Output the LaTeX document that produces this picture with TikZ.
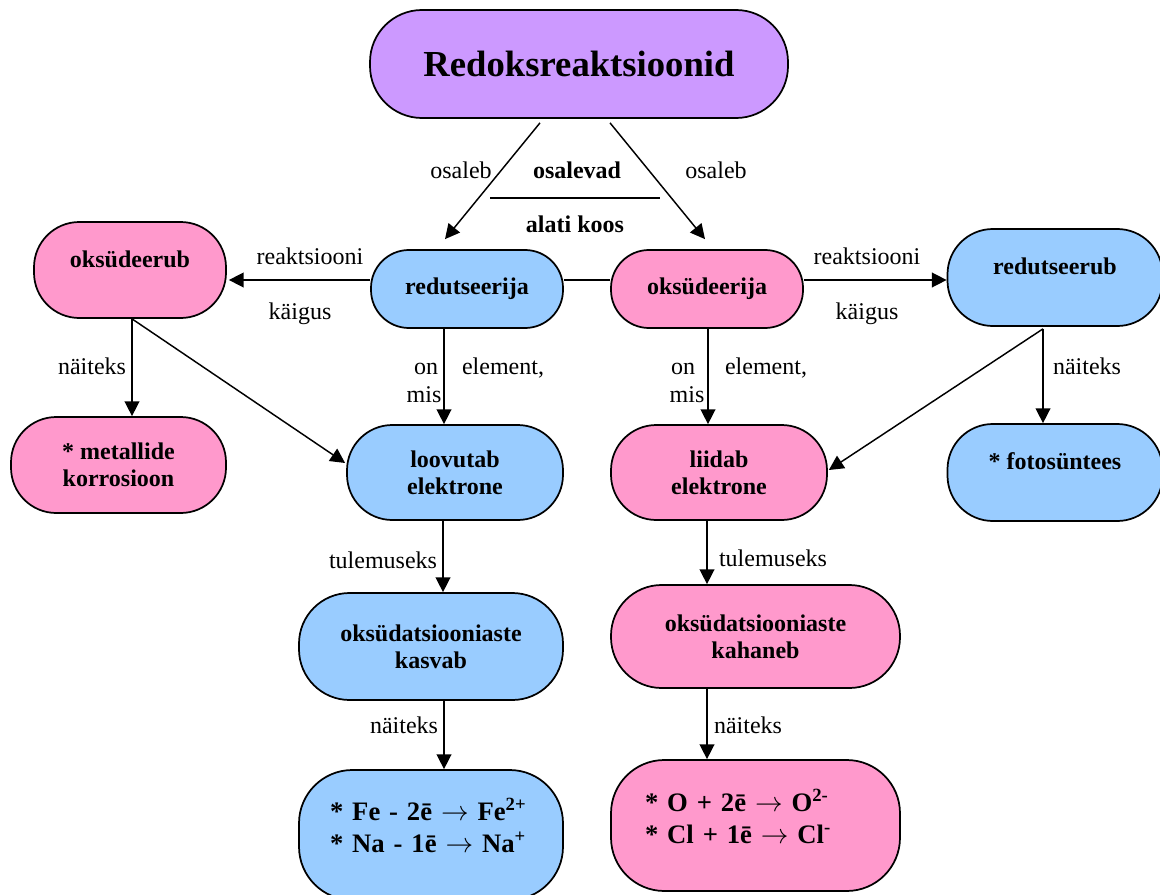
\documentclass[tikz,border=0pt]{standalone}
\usepackage{fontspec}
\setmainfont{Liberation Serif}
\usetikzlibrary{arrows.meta}
\definecolor{conceptPurple}{HTML}{CC99FF}
\definecolor{conceptPink}{HTML}{FF99CC}
\definecolor{conceptBlue}{HTML}{99CCFF}

\begin{document}
\begin{tikzpicture}[x=0.75pt,y=-0.75pt,%%
  boxStyle/.style={draw,line width=1.3pt,rounded corners=34pt,align=center,inner sep=0pt,font=\fontsize{18}{20}\selectfont\bfseries},%%
  blueBox/.style={boxStyle,fill=conceptBlue},%%
  pinkBox/.style={boxStyle,fill=conceptPink},%%
  topBox/.style={boxStyle,fill=conceptPurple,rounded corners=39pt,minimum width=313.5pt,minimum height=81pt,font=\fontsize{27.5}{30}\selectfont\bfseries},%%
  smallPill/.style={minimum width=144pt,minimum height=58.5pt,rounded corners=28.5pt},%%
  bigPill/.style={rounded corners=38pt},%%
  eqText/.style={align=left,font=\fontsize{20}{23.5}\selectfont\bfseries},%%
  arrowStyle/.style={-{Triangle[length=11pt,width=11pt]},line width=1.1pt},%%
  lineStyle/.style={-,line width=1.1pt},%%
  labelStyle/.style={inner sep=0pt,text height=12.6pt,text depth=3.6pt,font=\fontsize{18}{20}\selectfont},%%
  boldLabel/.style={labelStyle,font=\fontsize{18}{20}\selectfont\bfseries}
]
\useasboundingbox (0,0) rectangle (1160,895);
%%
%% Main concept and the two agents.
\node[topBox] (redoks) at (579,64) {Redoksreaktsioonid};
\node[blueBox,smallPill] (redutseerija) at (467,289) {redutseerija};
\node[pinkBox,smallPill] (oksudeerija) at (707,289) {oksüdeerija};
%% What happens to the agents.
\node[pinkBox,minimum width=144pt,minimum height=72pt,text height=12.6pt,text depth=16.8pt] (oksudeerub) at (130,270) {oksüdeerub};
\node[blueBox,minimum width=161.25pt,minimum height=72.75pt,text height=12.6pt,text depth=17.5pt] (redutseerub) at (1055,277.5) {redutseerub};
\node[pinkBox,minimum width=161.25pt,minimum height=72pt] (korrosioon) at (118.5,465) {* metallide\\korrosioon};
\node[blueBox,minimum width=162pt,minimum height=71.25pt] (loovutab) at (455,472.5) {loovutab\\elektrone};
\node[pinkBox,minimum width=162pt,minimum height=71.25pt] (liidab) at (719,472.5) {liidab\\elektrone};
\node[blueBox,minimum width=161.25pt,minimum height=72.75pt,text height=12.6pt,text depth=17.5pt] (fotosuntees) at (1055,472.5) {* fotosüntees};
%% Oxidation state and examples.
\node[blueBox,bigPill,minimum width=198pt,minimum height=80.25pt] (kasvab) at (431,646.5) {oksüdatsiooniaste\\kasvab};
\node[pinkBox,bigPill,minimum width=216.75pt,minimum height=77.25pt] (kahaneb) at (755.5,636.5) {oksüdatsiooniaste\\kahaneb};
\node[blueBox,bigPill,eqText,minimum width=198pt,minimum height=97.5pt,text width=151.5pt,inner xsep=23.25pt,text height=14pt,text depth=35.3pt,rounded corners=40pt] (naideFe) at (431,835) {* Fe - 2ē $\rightarrow$ Fe\textsuperscript{2+}\\{}* Na - 1ē $\rightarrow$ Na\textsuperscript{+}};
\node[pinkBox,bigPill,eqText,minimum width=216.75pt,minimum height=98.25pt,text width=165.75pt,inner xsep=25.5pt,text height=14pt,text depth=34.6pt,rounded corners=40pt] (naideO) at (755.5,825.5) {* O + 2ē $\rightarrow$ O\textsuperscript{2-}\\{}* Cl + 1ē $\rightarrow$ Cl\textsuperscript{-}};
%%
%% Both agents take part.
\draw[arrowStyle] ([shift={(-39,4)}]redoks.south) -- ([shift={(-22,-10)}]redutseerija.north);
\draw[arrowStyle] ([shift={(31,4)}]redoks.south) -- ([shift={(-2,-10)}]oksudeerija.north);
\node[labelStyle] (lblOsalebL) at (461,173) {osaleb};
\node[labelStyle] (lblOsalebR) at (716,173) {osaleb};
\node[boldLabel] (lblOsalevad) at (577,173) {osalevad};
\node[boldLabel] (lblKoos) at (575,227) {alati koos};
\draw[lineStyle] (490,198) -- (660,198);
%% Always together, and what they undergo.
\draw[lineStyle] ([shift={(0,-9)}]redutseerija.east) -- ([shift={(0,-9)}]oksudeerija.west);
\draw[arrowStyle] ([shift={(0,-9)}]redutseerija.west) -- ([shift={(2,10)}]oksudeerub.east);
\node[labelStyle] (lblReakL) at (310,258) {reaktsiooni};
\node[labelStyle] (lblKaigusL) at (300,313) {käigus};
\draw[arrowStyle] ([shift={(0,-9)}]oksudeerija.east) -- ([shift={(0,2.5)}]redutseerub.west);
\node[labelStyle] (lblReakR) at (867,258) {reaktsiooni};
\node[labelStyle] (lblKaigusR) at (867,313) {käigus};
%% Left branch.
\draw[arrowStyle] ([shift={(2,0)}]oksudeerub.south) -- ([shift={(13.5,0)}]korrosioon.north);
\draw[arrowStyle] ([shift={(2,0)}]oksudeerub.south) -- ([shift={(-1,-9.5)}]loovutab.west);
\node[labelStyle] (lblNaitKor) at (92,368) {näiteks};
\draw[arrowStyle] ([shift={(-23,0)}]redutseerija.south) -- ([shift={(-11,0)}]loovutab.north);
\node[labelStyle] (lblOnL) at (426,368) {on};
\node[labelStyle] (lblMisL) at (424,396) {mis};
\node[labelStyle] (lblElemL) at (503,368) {element,};
%% Right branch.
\draw[arrowStyle] ([shift={(1,0)}]oksudeerija.south) -- ([shift={(-11,0)}]liidab.north);
\node[labelStyle] (lblOnR) at (683,368) {on};
\node[labelStyle] (lblMisR) at (687,396) {mis};
\node[labelStyle] (lblElemR) at (766,368) {element,};
\draw[arrowStyle] ([shift={(-12,2)}]redutseerub.south) -- ([shift={(1,-2.5)}]liidab.east);
\draw[arrowStyle] ([shift={(-12,2)}]redutseerub.south) -- ([shift={(-12,0)}]fotosuntees.north);
\node[labelStyle] (lblNaitFoto) at (1087,368) {näiteks};
%% Results and examples.
\draw[arrowStyle] ([shift={(-12,0)}]loovutab.south) -- ([shift={(12,0)}]kasvab.north);
\node[labelStyle] (lblTulemL) at (383,562) {tulemuseks};
\draw[arrowStyle] ([shift={(-12,0)}]liidab.south) -- ([shift={(-48.5,0)}]kahaneb.north);
\node[labelStyle] (lblTulemR) at (773,560) {tulemuseks};
\draw[arrowStyle] ([shift={(13,0)}]kasvab.south) -- ([shift={(13,0)}]naideFe.north);
\node[labelStyle] (lblNaitFe) at (404,727) {näiteks};
\draw[arrowStyle] ([shift={(-48.5,0)}]kahaneb.south) -- ([shift={(-48.5,0)}]naideO.north);
\node[labelStyle] (lblNaitO) at (748,727) {näiteks};
\end{tikzpicture}
\end{document}
